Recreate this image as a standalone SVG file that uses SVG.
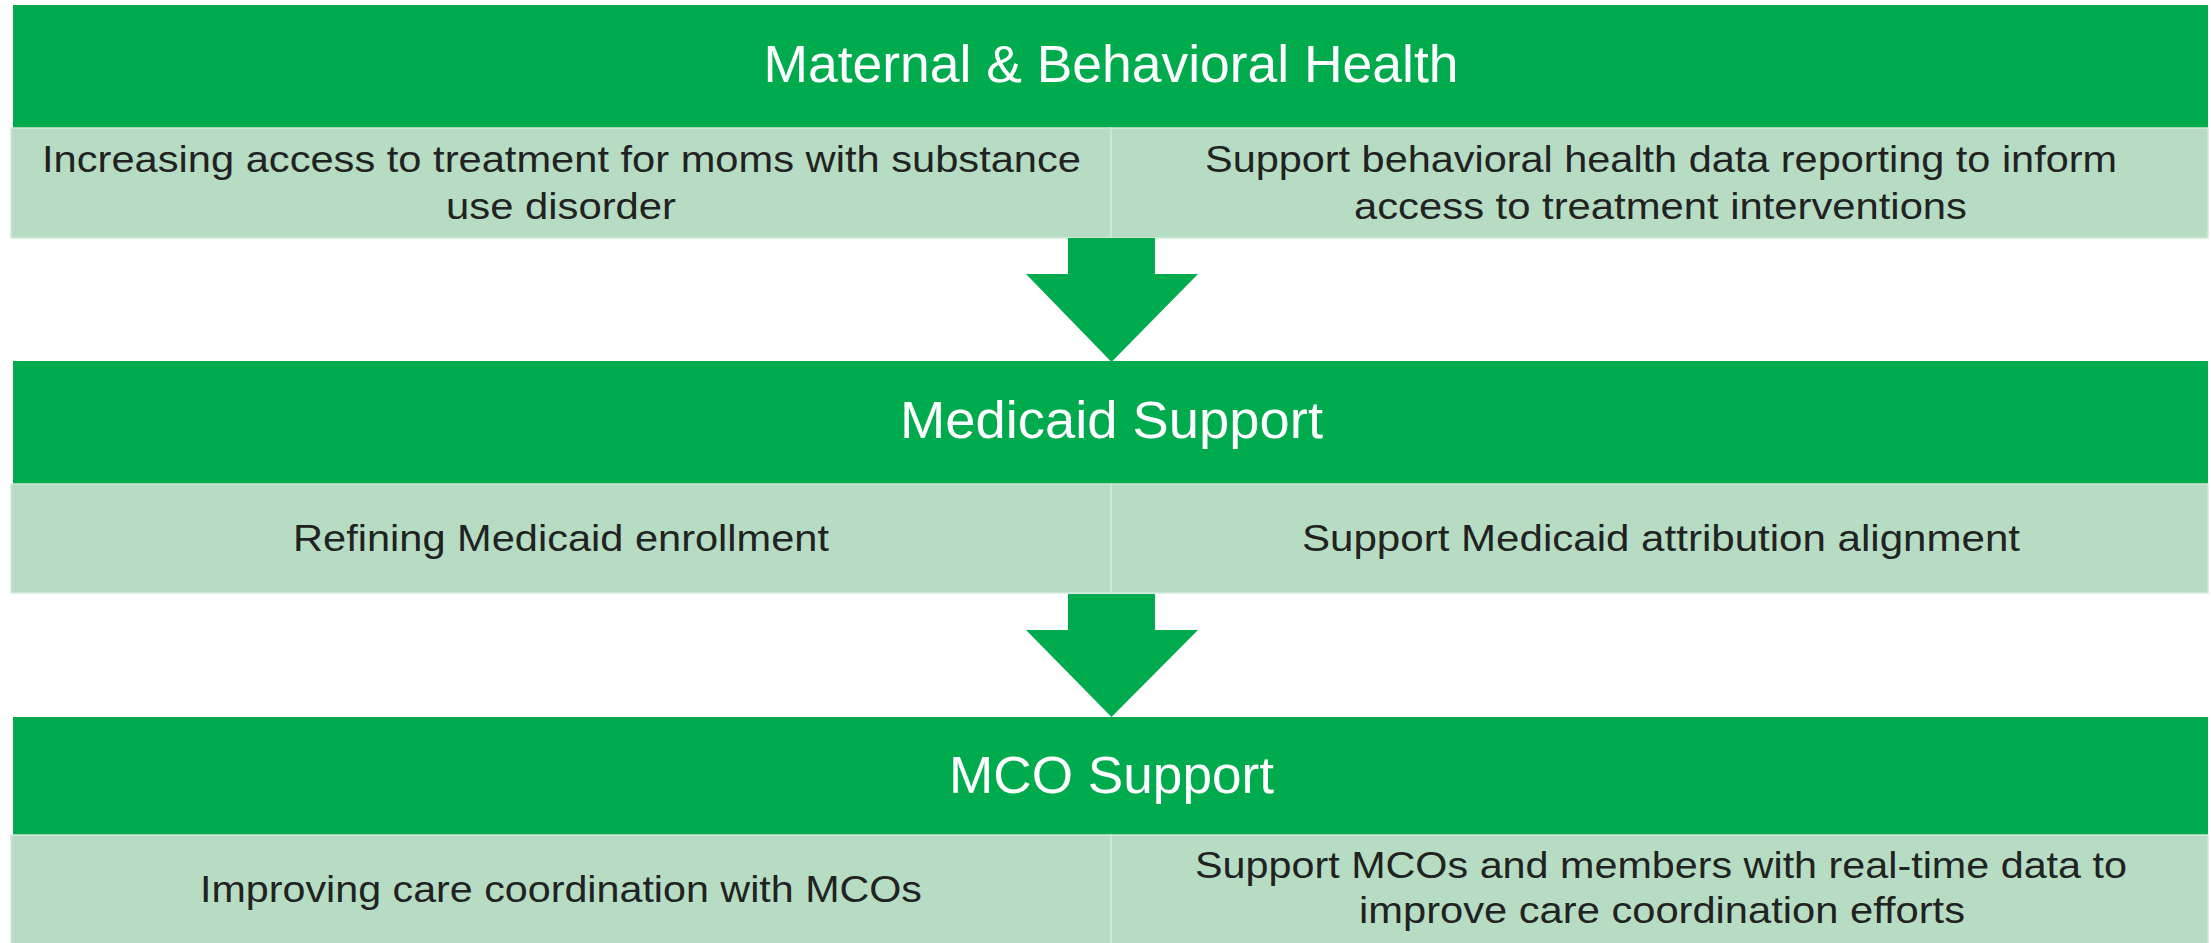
<svg xmlns="http://www.w3.org/2000/svg" width="2211" height="943" viewBox="0 0 2211 943">
<style>
.hdr{fill:#00AB4E;}
.cell{fill:#B6DDC4;stroke:#D2EADB;stroke-width:1.5;}
.ht{font-family:"Liberation Sans",Arial,sans-serif;font-size:51px;fill:#FFFFFF;text-anchor:middle;}
.bt{font-family:"Liberation Sans",Arial,sans-serif;font-size:37px;fill:#222222;text-anchor:middle;}
.arrow{fill:#00AB4E;}
</style>
<rect x="0" y="0" width="2211" height="943" fill="#FFFFFF"/>
<g id="maternal-header">
<rect class="hdr" x="13" y="5" width="2195" height="123"/>
<text class="ht" x="1111" y="82" textLength="695" lengthAdjust="spacingAndGlyphs">Maternal &amp; Behavioral Health</text>
</g>
<g id="maternal-left">
<rect class="cell" x="11" y="128" width="1100" height="110"/>
<text class="bt" x="561.5" y="172" textLength="1039" lengthAdjust="spacingAndGlyphs">Increasing access to treatment for moms with substance</text>
<text class="bt" x="561" y="219" textLength="230" lengthAdjust="spacingAndGlyphs">use disorder</text>
</g>
<g id="maternal-right">
<rect class="cell" x="1111" y="128" width="1097" height="110"/>
<text class="bt" x="1661" y="172" textLength="912" lengthAdjust="spacingAndGlyphs">Support behavioral health data reporting to inform</text>
<text class="bt" x="1660.5" y="219" textLength="613" lengthAdjust="spacingAndGlyphs">access to treatment interventions</text>
</g>
<g id="medicaid-header">
<rect class="hdr" x="13" y="361" width="2195" height="123"/>
<text class="ht" x="1111.5" y="438" textLength="423" lengthAdjust="spacingAndGlyphs">Medicaid Support</text>
</g>
<g id="medicaid-left">
<rect class="cell" x="11" y="484" width="1100" height="109"/>
<text class="bt" x="561" y="551" textLength="536" lengthAdjust="spacingAndGlyphs">Refining Medicaid enrollment</text>
</g>
<g id="medicaid-right">
<rect class="cell" x="1111" y="484" width="1097" height="109"/>
<text class="bt" x="1661" y="551" textLength="718" lengthAdjust="spacingAndGlyphs">Support Medicaid attribution alignment</text>
</g>
<g id="mco-header">
<rect class="hdr" x="13" y="717" width="2195" height="118"/>
<text class="ht" x="1111.5" y="793" textLength="325" lengthAdjust="spacingAndGlyphs">MCO Support</text>
</g>
<g id="mco-left">
<rect class="cell" x="11" y="835" width="1100" height="110"/>
<text class="bt" x="561" y="902" textLength="722" lengthAdjust="spacingAndGlyphs">Improving care coordination with MCOs</text>
</g>
<g id="mco-right">
<rect class="cell" x="1111" y="835" width="1097" height="110"/>
<text class="bt" x="1661" y="878" textLength="932" lengthAdjust="spacingAndGlyphs">Support MCOs and members with real-time data to</text>
<text class="bt" x="1662" y="923" textLength="606" lengthAdjust="spacingAndGlyphs">improve care coordination efforts</text>
</g>
<g id="connectors">
<polygon class="arrow" points="1068,238 1155,238 1155,274 1198,274 1111.5,362 1026,274 1068,274"/>
<polygon class="arrow" points="1068,594 1155,594 1155,630 1198,630 1111.5,717 1026,630 1068,630"/>
</g>
</svg>
